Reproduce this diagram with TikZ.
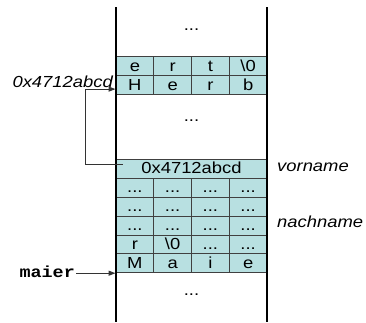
\documentclass[tikz,border=0pt]{standalone}
\usepackage{fontspec}
\setmainfont[FakeStretch=1.15]{Liberation Sans}
\setmonofont[FakeStretch=1.15]{Liberation Mono}
\usetikzlibrary{arrows.meta,positioning,calc}
\definecolor{cellcyan}{RGB}{184,224,225}
\newcommand{\threedots}{...}

\begin{document}
\begin{tikzpicture}[x=1pt,y=-1pt,
  every node/.style={font=\fontsize{16}{16}\selectfont},
  cell/.style={draw=black!75, line width=0.9pt, fill=cellcyan,
    minimum width=37.75pt, minimum height=18.9pt, inner sep=0pt,
    text height=12.5pt, text depth=2.5pt},
  lbl/.style={inner sep=1pt},
  wall/.style={line width=2pt},
  ptr/.style={draw=black!80, line width=1pt, -{Triangle[length=7pt,width=5pt]}}]
  \useasboundingbox (0,0) rectangle (366,322);

  % upper block: rest of the first name
  \foreach \c [count=\i] in {e,r,t,{\textbackslash 0}}
    \node[cell] (ert\i) at ({116+37.75*(\i-0.5)},66.2) {\c};
  \foreach \c [count=\i] in {H,e,r,b}
    \node[cell] (herb\i) at ({116+37.75*(\i-0.5)},85.1) {\c};

  % struct: pointer field and char array
  \node[cell, minimum width=151pt] (addr) at (191.5,168.8) {0x4712abcd};
  \foreach \r in {1,2,3}
    \foreach \i in {1,2,3,4}
      \node[cell] (dots\r\i) at ({116+37.75*(\i-0.5)},{168.8+18.9*\r}) {\threedots};
  \foreach \c [count=\i] in {r,{\textbackslash 0},\threedots,\threedots}
    \node[cell] (rest\i) at ({116+37.75*(\i-0.5)},244.4) {\c};
  \foreach \c [count=\i] in {M,a,i,e}
    \node[cell] (m\i) at ({116+37.75*(\i-0.5)},263.3) {\c};

  % stack walls
  \draw[wall] (116,7) -- (116,322);
  \draw[wall] (267,7) -- (267,322);

  % gaps
  \node (topgap) at (191.5,30) {\threedots};
  \node (midgap) at (191.5,121) {\threedots};
  \node (botgap) at (191.5,295) {\threedots};

  % Labels
  \node[lbl, anchor=base east, font=\fontsize{16}{16}\selectfont\itshape] (herbaddr) at (114,87.5) {0x4712abcd};
  \node[lbl, anchor=base west, font=\fontsize{16}{16}\selectfont\itshape] (vorname) at (276,171) {vorname};
  \node[lbl, anchor=base west, font=\fontsize{16}{16}\selectfont\itshape] (nachname) at (276,227) {nachname};
  \node[lbl, anchor=base east, font=\fontsize{16}{16}\selectfont\ttfamily\bfseries] (maier) at (76,277) {maier};

  % pointers
  \coordinate (src) at ($(addr.west)+(7,-4.5)$);
  \coordinate (dst) at ($(herb1.west)+(0,4)$);
  \draw[ptr] (src) -- ++(-37,0) |- (dst);
  \draw[ptr] (maier.east |- m1.south west) -- (m1.south west);
\end{tikzpicture}
\end{document}
